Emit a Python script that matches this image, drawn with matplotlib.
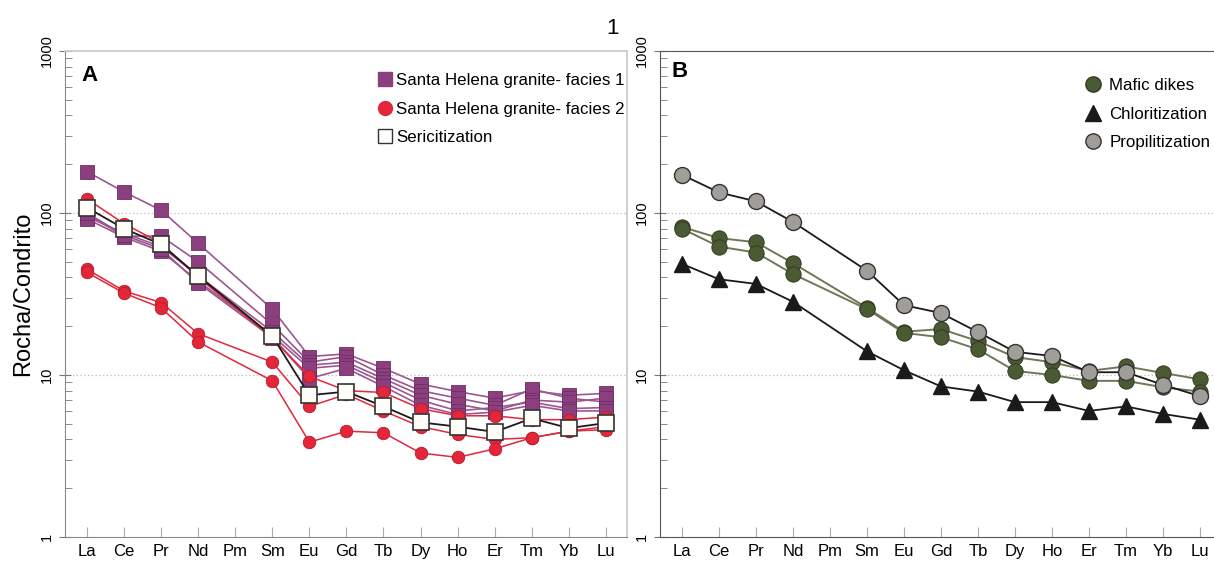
import numpy as np
import matplotlib
matplotlib.use("Agg")
import matplotlib.pyplot as plt
from matplotlib.lines import Line2D
from matplotlib.ticker import LogLocator, NullFormatter, FixedLocator

plt.rcParams['font.family'] = ['Liberation Sans', 'DejaVu Sans']

elements = ["La", "Ce", "Pr", "Nd", "Pm", "Sm", "Eu", "Gd", "Tb", "Dy", "Ho", "Er", "Tm", "Yb", "Lu"]
NA = np.nan

# Panel A - Santa Helena granite facies 1 (purple squares)
facies1 = [
    [180, 135, 104, 65, NA, 25.5, 13.0, 13.5, 11.0, 8.8, 7.9, 7.2, 8.0, 7.5, 7.7],
    [98, 72, 72, 50, NA, 20.5, 12.0, 13.0, 10.0, 8.0, 7.2, 6.5, 8.2, 7.2, 6.8],
    [95, 75, 62, 41, NA, 18.5, 11.5, 12.0, 9.5, 7.5, 6.6, 6.0, 7.0, 6.8, 7.2],
    [92, 71, 58, 38, NA, 17.5, 11.0, 11.5, 9.0, 7.0, 6.0, 6.3, 6.8, 6.2, 6.3],
    [100, 73, 60, 37, NA, 17.0, 9.5, 11.0, 8.5, 6.5, 5.7, 5.9, 6.5, 6.0, 6.0],
]
# Panel A - facies 2 (red circles)
facies2 = [
    [122, 86, 65, 40, NA, 17.0, 9.8, 8.0, 7.8, 6.2, 5.6, 5.6, 5.3, 5.3, 5.5],
    [45, 33, 28, 18, NA, 12.0, 6.4, 7.6, 6.0, 4.8, 4.3, 4.0, 4.1, 4.5, 4.8],
    [43, 32, 26, 16, NA, 9.2, 3.85, 4.5, 4.4, 3.3, 3.1, 3.5, 4.1, 4.5, 4.6],
]
# Panel A - sericitization (white squares)
sericitization = [108, 80, 64, 41, NA, 17.4, 7.5, 7.9, 6.4, 5.1, 4.8, 4.45, 5.4, 4.7, 5.05]

# Panel B
mafic_dikes = [
    [82, 70, 66, 49, NA, 26, 18.5, 19.2, 16.2, 12.9, 12.0, 10.6, 11.3, 10.3, 9.4],
    [80, 62, 57, 42, NA, 25.5, 18.2, 17.1, 14.4, 10.6, 10.0, 9.2, 9.2, 8.4, 7.9],
]
chloritization = [48.5, 39, 36.5, 28.3, NA, 14.0, 10.7, 8.5, 7.9, 6.8, 6.8, 6.0, 6.4, 5.75, 5.3]
propilitization = [172, 134, 118, 88, NA, 44, 27, 24.1, 18.4, 13.9, 13.1, 10.4, 10.4, 8.7, 7.4]

x_all = np.arange(len(elements))

def plot_series(ax, vals, **kw):
    v = np.array(vals, dtype=float)
    m = np.isfinite(v)
    ax.plot(x_all[m], v[m], **kw)

fig = plt.figure(figsize=(12.14, 5.63), dpi=100)
axA = fig.add_axes([65/1214, 1-537/563, (627-65)/1214, (537-51)/563])
axB = fig.add_axes([660/1214, 1-537/563, (1214-660)/1214, (537-51)/563])

purple = "#8C3F7F"
purple_line = "#9B5790"
red = "#E2273B"
green = "#4A5A32"
green_line = "#6E7858"
gray = "#A19D99"

for s in facies1:
    plot_series(axA, s, color=purple_line, lw=1.2, marker='s', ms=9.5,
                mfc=purple, mec="#6E2F63", mew=0.6, zorder=3)
for s in facies2:
    plot_series(axA, s, color=red, lw=1.1, marker='o', ms=9,
                mfc=red, mec="#B81A2C", mew=0.6, zorder=4)
plot_series(axA, sericitization, color="#1a1a1a", lw=1.3, marker='s', ms=12,
            mfc="#FFFDF8", mec="#333333", mew=1.2, zorder=5)

for s in mafic_dikes:
    plot_series(axB, s, color=green_line, lw=1.4, marker='o', ms=11,
                mfc=green, mec="#333a22", mew=0.7, zorder=4)
plot_series(axB, chloritization, color="#1a1a1a", lw=1.3, marker='^', ms=11.5,
            mfc="#1a1a1a", mec="#1a1a1a", zorder=3)
plot_series(axB, propilitization, color="#1a1a1a", lw=1.3, marker='o', ms=11.5,
            mfc=gray, mec="#333333", mew=1.0, zorder=5)

for ax, xlim, spine_col in [(axA, (-0.593, 14.57), "#888888"), (axB, (-0.595, 14.38), "#555555")]:
    ax.set_yscale('log')
    ax.set_ylim(1, 1000)
    ax.set_xlim(*xlim)
    ax.set_xticks(x_all)
    ax.set_xticklabels(elements, fontsize=12)
    ax.yaxis.set_major_locator(FixedLocator([1, 10, 100, 1000]))
    ax.set_yticklabels(["1", "10", "100", "1000"], rotation=90, va='center', fontsize=10.5)
    ax.yaxis.set_minor_locator(LogLocator(base=10, subs=np.arange(2, 10)))
    ax.yaxis.set_minor_formatter(NullFormatter())
    ax.tick_params(axis='x', direction='in', length=7, color="#aaaaaa", pad=5)
    ax.tick_params(axis='y', which='major', direction='inout', length=8, color="#777777", pad=4)
    ax.tick_params(axis='y', which='minor', direction='in', length=5, color="#777777")
    for yv in (10, 100):
        ax.axhline(yv, color="#bbbbbb", lw=0.9, ls=(0, (1, 2)), zorder=1)
    ax.spines['left'].set_color(spine_col)
    ax.spines['bottom'].set_color(spine_col)

axA.spines['top'].set_color("#cccccc")
axA.spines['right'].set_color("#cccccc")
axA.spines['top'].set_linewidth(1.3)
axA.spines['right'].set_linewidth(1.3)
axB.spines['top'].set_color("#555555")
axB.spines['right'].set_visible(False)

axA.set_ylabel("Rocha/Condrito", fontsize=17, labelpad=4)

axA.text(0.03, 0.972, "A", transform=axA.transAxes, fontsize=16, fontweight='bold', va='top')
axB.text(0.02, 0.98, "B", transform=axB.transAxes, fontsize=16, fontweight='bold', va='top')
fig.text(612/1214, 1-28/563, "1", fontsize=16, ha='center', va='center')

hA = [
    Line2D([], [], ls='none', marker='s', ms=10, mfc=purple, mec=purple, label="Santa Helena granite- facies 1"),
    Line2D([], [], ls='none', marker='o', ms=10, mfc=red, mec=red, label="Santa Helena granite- facies 2"),
    Line2D([], [], ls='none', marker='s', ms=10, mfc="white", mec="#333333", mew=1.0, label="Sericitization"),
]
axA.legend(handles=hA, loc='upper right', bbox_to_anchor=(1.014, 0.975), frameon=False,
           fontsize=12.2, handletextpad=0.05, labelspacing=0.8, handlelength=1.2, borderaxespad=0.2)

hB = [
    Line2D([], [], ls='none', marker='o', ms=11, mfc=green, mec="#333a22", label="Mafic dikes"),
    Line2D([], [], ls='none', marker='^', ms=11, mfc="#1a1a1a", mec="#1a1a1a", label="Chloritization"),
    Line2D([], [], ls='none', marker='o', ms=11, mfc=gray, mec="#333333", label="Propilitization"),
]
axB.legend(handles=hB, loc='upper right', bbox_to_anchor=(1.012, 0.965), frameon=False,
           fontsize=12.2, handletextpad=0.2, labelspacing=0.8, handlelength=1.5, borderaxespad=0.2)

fig.savefig("out.png", dpi=100)
